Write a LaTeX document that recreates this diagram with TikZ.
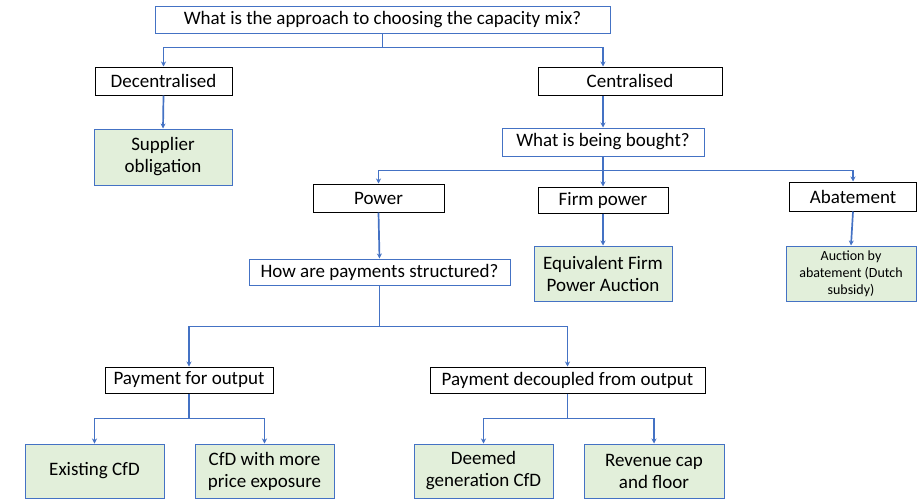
\documentclass[tikz,border=0pt]{standalone}
\usepackage{fontspec}
\setmainfont{Carlito}
\usetikzlibrary{arrows.meta}
\definecolor{lineblue}{HTML}{4472C4}
\definecolor{boxgreen}{HTML}{E2EFDA}
\begin{document}
\begin{tikzpicture}[x=1pt,y=-1pt,
 box/.style={draw, rectangle, inner sep=0pt, align=center, font=\fontsize{19}{22}\selectfont, line width=1pt},
 qbox/.style={box, draw=lineblue, fill=white},
 cbox/.style={box, draw=black},
 gbox/.style={box, draw=lineblue, fill=boxgreen},
 conn/.style={draw=lineblue, line width=1.7pt, -{Stealth[length=5pt,width=5pt]}}]
\useasboundingbox (0,0) rectangle (917,499);
% nodes
\node[qbox, minimum width=455pt, minimum height=27pt] (q1) at (382.5,19.5) {What is the approach to choosing the capacity mix?};
\node[cbox, minimum width=137pt, minimum height=28pt] (dec) at (163.5,81) {Decentralised};
\node[cbox, minimum width=184pt, minimum height=28pt] (cent) at (630,81) {Centralised};
\node[gbox, minimum width=138pt, minimum height=56pt] (supp) at (163,157) {Supplier\\obligation};
\node[qbox, minimum width=202pt, minimum height=28pt] (bought) at (603,142) {What is being bought?};
\node[cbox, minimum width=131pt, minimum height=28pt] (power) at (378.5,198) {Power};
\node[cbox, minimum width=130pt, minimum height=26pt] (firm) at (603,200) {Firm power};
\node[cbox, minimum width=127pt, minimum height=29pt] (abat) at (853,196.5) {Abatement};
\node[gbox, minimum width=138pt, minimum height=55pt] (efpa) at (603,273.5) {Equivalent Firm\\Power Auction};
\node[gbox, minimum width=130pt, minimum height=55pt, font=\fontsize{14}{17}\selectfont] (auct) at (851,273.5) {Auction by\\abatement (Dutch\\subsidy)};
\node[qbox, minimum width=261pt, minimum height=26pt] (how) at (379.5,272) {How are payments structured?};
\node[cbox, minimum width=168pt, minimum height=26pt] (pfo) at (189,380) {Payment for output};
\node[cbox, minimum width=275pt, minimum height=26pt] (pdo) at (567.5,380) {Payment decoupled from output};
\node[gbox, minimum width=139pt, minimum height=54pt] (ex) at (94.5,471) {Existing CfD};
\node[gbox, minimum width=139pt, minimum height=54pt] (cfdm) at (264.5,471) {CfD with more\\price exposure};
\node[gbox, minimum width=139pt, minimum height=54pt] (deem) at (483.5,471) {Deemed\\generation CfD};
\node[gbox, minimum width=140pt, minimum height=54pt] (rev) at (654,471) {Revenue cap\\and floor};
% connectors
\draw[conn] (q1.south) -- ++(0,14) -| (dec.north);
\draw[conn] (q1.south) -- ++(0,14) -| (cent.north -| bought.north);
\draw[conn] (dec.south) -- (supp.north);
\draw[conn] (cent.south -| bought.north) -- (bought.north);
\draw[conn] (bought.south) -- ++(0,14) -| (power.north);
\draw[conn] (bought.south) -- (firm.north);
\draw[conn] (bought.south) -- ++(0,14) -| (abat.north);
\draw[conn] (power.south) -- (how.north);
\draw[conn] (firm.south) -- (efpa.north);
\draw[conn] (abat.south) -- (auct.north);
\draw[conn] (how.south) -- ++(0,41) -| (pfo.north);
\draw[conn] (how.south) -- ++(0,41) -| (pdo.north);
\draw[conn] (pfo.south) -- ++(0,25) -| (ex.north);
\draw[conn] (pfo.south) -- ++(0,25) -| (cfdm.north);
\draw[conn] (pdo.south) -- ++(0,25) -| (deem.north);
\draw[conn] (pdo.south) -- ++(0,25) -| (rev.north);
\end{tikzpicture}
\end{document}
